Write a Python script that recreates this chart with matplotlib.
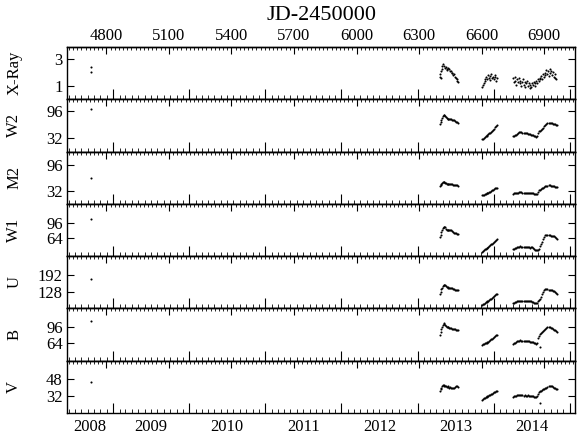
import numpy as np
import matplotlib.pyplot as plt
from matplotlib.ticker import FixedLocator, MultipleLocator, NullFormatter

plt.rcParams['font.family'] = ['Liberation Serif', 'DejaVu Serif']
plt.rcParams['font.size'] = 11

# observation times, JD-2450000
t_early = [4727]
t_seg1 = [6400, 6403, 6406, 6410, 6414, 6418, 6421, 6425, 6429, 6433, 6437,
          6441, 6445, 6449, 6453, 6458, 6462, 6466, 6470, 6475, 6480, 6486]
t_seg2 = [6604, 6608, 6612, 6616, 6620, 6624, 6628, 6632, 6636, 6640, 6645,
          6650, 6655, 6660, 6665, 6669, 6673]
t_seg3 = [6751, 6756, 6761, 6766, 6771, 6776, 6781, 6786, 6791, 6796, 6801,
          6806, 6811, 6816, 6821, 6826, 6831, 6836, 6841, 6846, 6851, 6856,
          6861, 6866, 6871, 6876, 6881, 6886, 6891, 6896, 6901, 6906, 6911,
          6916, 6921, 6926, 6931, 6936, 6941, 6946, 6951, 6956, 6960]
t_uv = t_early + t_seg1 + t_seg2 + t_seg3

# UVOT fluxes
w2 = [102.5,
      64, 69, 74, 80, 84, 87, 86, 84, 81, 79, 78, 78, 77, 76, 76, 75, 74, 74, 72, 71, 69, 68,
      28, 29, 31, 33, 35, 36, 38, 40, 42, 44, 46, 48, 50, 53, 57, 60, 62,
      36, 37, 38, 39, 40, 43, 45, 46, 45, 44, 43, 42, 43, 42, 41, 41, 40, 39, 39, 38, 37, 35,
      34, 35, 44, 47, 49, 50, 52, 55, 60, 63, 65, 67, 68, 68, 67, 67, 66, 66, 65, 63, 62]
m2 = [64,
      44, 47, 50, 53, 55, 55, 54, 53, 52, 51, 51, 50, 50, 49, 49, 49, 48, 48, 48, 47, 47, 46,
      22, 23, 24, 25, 26, 27, 28, 29, 30, 31, 33, 34, 35, 37, 39, 40, 41,
      26, 27, 27, 28, 28, 29, 30, 30, 30, 29, 29, 29, 28, 29, 28, 28, 28, 27, 27, 27, 26, 25,
      25, 26, 31, 34, 36, 38, 39, 41, 42, 44, 45, 46, 47, 47, 46, 45, 44, 44, 43, 43, 43]
w1 = [104,
      66, 71, 76, 81, 85, 87, 88, 87, 84, 81, 80, 80, 81, 81, 81, 79, 77, 75, 74, 74, 73, 73,
      35, 37, 39, 41, 42, 43, 44, 46, 48, 50, 52, 53, 55, 57, 59, 61, 63,
      41, 42, 43, 44, 45, 46, 46, 47, 46, 45, 45, 46, 45, 46, 45, 45, 44, 45, 45, 44, 42, 40,
      39, 39, 40, 41, 49, 53, 57, 62, 67, 70, 70, 71, 70, 70, 69, 69, 68, 68, 67, 65, 63]
u = [177,
     123, 131, 139, 146, 151, 155, 157, 156, 152, 149, 147, 146, 146, 145, 144, 143, 141, 139, 138, 137, 136, 135,
     82, 84, 86, 89, 91, 92, 94, 97, 100, 102, 105, 107, 110, 114, 118, 121, 123,
     88, 89, 91, 92, 94, 95, 96, 97, 97, 96, 96, 97, 96, 96, 96, 95, 95, 94, 93, 92, 90, 89,
     88, 89, 96, 100, 104, 112, 121, 130, 137, 139, 140, 139, 138, 138, 137, 135, 133, 132, 130, 127, 123]
b = [108,
     81, 86, 92, 97, 101, 104, 102, 100, 98, 97, 97, 96, 95, 94, 94, 93, 92, 92, 92, 91, 91, 90,
     61, 62, 63, 64, 65, 65, 66, 67, 69, 70, 72, 73, 74, 76, 78, 80, 81,
     63, 64, 65, 66, 68, 69, 69, 70, 69, 69, 68, 69, 68, 69, 68, 68, 67, 67, 66, 66, 65, 64,
     63, 64, 74, 79, 82, 84, 86, 88, 91, 93, 95, 96, 96, 96, 95, 94, 92, 91, 90, 89, 87]
v = [45,
     37, 38.5, 40, 41, 42, 42, 41.5, 41, 41, 40.5, 41, 40.5, 40, 40.5, 40, 40, 39.5, 40, 40.5, 41, 41, 40.5,
     29, 29.5, 30, 30.5, 31, 31.5, 32, 32.5, 33, 33.5, 34, 34.5, 35, 35.5, 36, 36.5, 37,
     31.5, 32, 32, 32.5, 33, 33.5, 33, 33.5, 33, 33, 32.5, 33, 32.5, 32.5, 33, 32.5, 32.5, 32,
     32, 32, 31.5, 31.5, 31.5, 32, 34, 35.5, 36.5, 37, 37.5, 38.5, 39, 39.5, 40, 40.5, 41, 41,
     41.5, 41, 40.5, 40, 39.5, 39, 38.5]

# single outliers
t_out = [6878]
b_out = [57]
v_out = [26]

# X-ray
t_x = [4727, 4727,
       6400, 6402, 6404, 6405, 6408, 6412, 6416, 6420, 6424, 6428, 6432, 6436, 6440, 6444,
       6448, 6452, 6456, 6460, 6464, 6468, 6472, 6476, 6480, 6484, 6487,
       6604, 6607, 6610, 6614, 6618, 6622, 6626, 6630, 6634, 6638, 6642, 6646, 6650, 6654,
       6658, 6662, 6666, 6670, 6673,
       6750, 6754, 6758, 6762, 6766, 6770, 6774, 6778, 6782, 6786, 6790, 6794, 6798, 6802,
       6806, 6810, 6814, 6818, 6822, 6826, 6830, 6834, 6838, 6842, 6846, 6850, 6854, 6858,
       6862, 6866, 6870, 6874, 6878, 6882, 6886, 6890, 6894, 6898, 6902, 6906, 6910, 6914,
       6918, 6922, 6926, 6930, 6934, 6938, 6942, 6946, 6950, 6954, 6958]
xray = [2.41, 2.08,
        1.7, 1.9, 1.6, 2.1, 2.3, 2.5, 2.65, 2.5, 2.35, 2.45, 2.3, 2.2, 2.35, 2.25,
        2.1, 2.15, 2.0, 1.95, 1.85, 1.9, 1.7, 1.6, 1.5, 1.35, 1.3,
        0.9, 1.05, 1.2, 1.35, 1.5, 1.7, 1.55, 1.8, 1.6, 1.45, 1.75, 1.9, 1.6, 1.7,
        1.5, 1.8, 1.65, 1.35, 1.6,
        1.6, 1.3, 1.7, 1.4, 1.1, 1.5, 1.3, 1.6, 1.2, 1.4, 1.0, 1.3, 1.5, 1.1,
        1.3, 0.9, 1.2, 1.4, 1.0, 1.2, 0.85, 1.1, 0.95, 1.2, 1.05, 1.3, 1.0, 1.25,
        1.4, 1.2, 1.5, 1.35, 1.6, 1.5, 1.75, 1.55, 1.9, 1.7, 2.0, 1.8, 2.2, 1.9,
        2.1, 1.75, 2.3, 1.95, 2.1, 1.8, 2.05, 1.7, 1.9, 1.6, 1.5]

names = ['X-Ray', 'W2', 'M2', 'W1', 'U', 'B', 'V']
yticks = [[1, 3], [32, 96], [32, 96], [64, 96], [128, 192], [64, 96], [32, 48]]
ylims = [(0, 3.92), (-2, 125), (1, 130), (27, 135), (68, 263), (30, 133), (16.7, 64.5)]
series = [(t_x, xray), (t_uv, w2), (t_uv, m2), (t_uv, w1), (t_uv, u), (t_uv, b), (t_uv, v)]
outliers = {5: b_out, 6: v_out}
jd_labels = [4800, 5100, 5400, 5700, 6000, 6300, 6600, 6900]

years = list(range(2008, 2016))
xlo, xhi = 4611, 7048

def jd(d):
    return (d - np.datetime64('2000-01-01')).astype(float) + 1544.5

year_jd = jd(np.array(['%d-01-01' % y for y in years], dtype='datetime64[D]'))
month_jd = jd(np.arange('2008-01', '2015-03', dtype='datetime64[M]').astype('datetime64[D]'))
lab_pos, lab_txt = [], []
for i in range(len(years) - 1):
    a, c = max(year_jd[i], xlo), min(year_jd[i + 1], xhi)
    if c > a:
        lab_pos.append((a + c) / 2)
        lab_txt.append(str(years[i]))

fig, axes = plt.subplots(7, 1, sharex=True, figsize=(5.81, 4.37), dpi=100)
fig.subplots_adjust(left=0.1153, right=0.9897, top=0.8924, bottom=0.0549, hspace=0)

for i, ax in enumerate(axes):
    t, y = series[i]
    ax.plot(t, y, 'o', ms=1.5, color='black', mec='none')
    if i in outliers:
        ax.plot(t_out, outliers[i], 'o', ms=1.5, color='black', mec='none')
    ax.set_xlim(xlo, xhi)
    ax.set_ylim(*ylims[i])
    ax.set_yticks(yticks[i])
    ax.tick_params(axis='y', direction='in', left=True, right=True, length=5,
                   width=0.8, labelsize=12, pad=3)
    ax.xaxis.set_major_locator(FixedLocator(year_jd))
    ax.xaxis.set_minor_locator(FixedLocator(month_jd))
    ax.xaxis.set_major_formatter(NullFormatter())
    ax.tick_params(axis='x', which='major', direction='in', length=7, width=0.8,
                   labelbottom=False)
    ax.tick_params(axis='x', which='minor', direction='in', length=3, width=0.6)
    ax.set_ylabel(names[i], fontsize=12)
    ax.yaxis.set_label_coords(-0.088, 0.5)
    for sp in ax.spines.values():
        sp.set_linewidth(1.0)

    top = ax.secondary_xaxis('top')
    top.xaxis.set_major_locator(FixedLocator(jd_labels))
    top.xaxis.set_minor_locator(MultipleLocator(20))
    top.tick_params(which='major', direction='in', length=5, width=0.8, labelsize=12, pad=2)
    top.tick_params(which='minor', direction='in', length=2.5, width=0.6)
    if i > 0:
        top.tick_params(labeltop=False)
    top.spines['top'].set_linewidth(1.0)

# year labels centred in each year on the bottom axis
bot = axes[-1].secondary_xaxis('bottom')
bot.set_xticks(lab_pos)
bot.set_xticklabels(lab_txt)
bot.tick_params(length=0, labelsize=12, pad=4)
bot.spines['bottom'].set_visible(False)

fig.text(0.5 * (0.1153 + 0.9897), 0.965, 'JD-2450000', ha='center', va='center', fontsize=16)

plt.savefig('out.png', dpi=100)
